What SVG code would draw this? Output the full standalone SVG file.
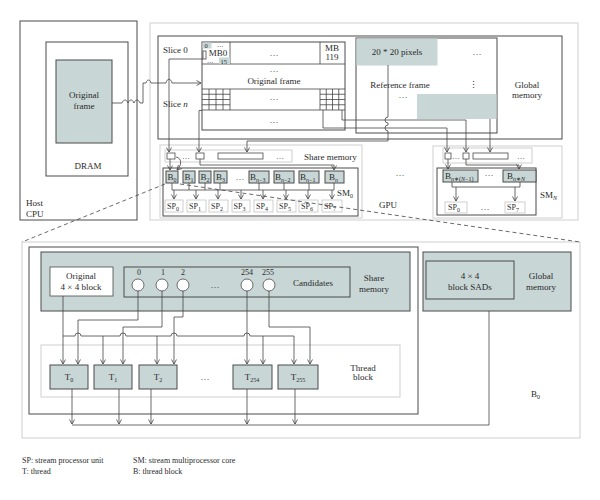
<svg xmlns="http://www.w3.org/2000/svg" width="600" height="500" viewBox="0 0 600 500">
<defs>
<style>
text{font-family:"Liberation Serif",serif;font-size:9px;fill:#2a2a2a}
.dk{fill:none;stroke:#4a4a4a;stroke-width:1}
.lt{fill:none;stroke:#cfcfcf;stroke-width:1}
.gr{fill:#c8d6d6;stroke:#4a4a4a;stroke-width:1}
.gf{fill:#c8d6d6;stroke:none}
.wh{fill:#fff;stroke:#4a4a4a;stroke-width:0.8}
.sp{fill:#fff;stroke:#c4c4c4;stroke-width:0.8}
.ln{fill:none;stroke:#444;stroke-width:0.8}
.ar{fill:none;stroke:#444;stroke-width:0.8;marker-end:url(#a)}
.ds{fill:none;stroke:#444;stroke-width:0.8;stroke-dasharray:4 3}
.c{text-anchor:middle}
.s{font-size:8px}
.xs{font-size:6.5px}
.sub{font-size:6px}
</style>
<marker id="a" markerWidth="6" markerHeight="6" refX="5" refY="3" orient="auto" markerUnits="userSpaceOnUse"><path d="M0.5,0.5 L5,3 L0.5,5.5" fill="none" stroke="#444" stroke-width="0.8"/></marker>
</defs>
<rect width="600" height="500" fill="#fff"/>

<g id="host-cpu">
<rect class="dk" x="20" y="21" width="117" height="199"/>
<text x="26" y="206">Host</text>
<text x="26" y="217">CPU</text>
</g>
<g id="dram">
<rect class="dk" x="46" y="42" width="82" height="134"/>
<text class="c" x="88" y="169">DRAM</text>
</g>
<g id="host-original-frame">
<rect class="gr" x="56" y="60" width="56" height="83"/>
<text class="c" x="84" y="98">Original</text>
<text class="c" x="84" y="109">frame</text>
</g>

<g id="gpu">
<rect class="lt" x="150" y="23" width="428" height="197"/>
<text class="c" x="388" y="208">GPU</text>
<text class="c" x="400" y="176">…</text>
</g>

<g id="global-memory">
<rect class="dk" x="158" y="36" width="404" height="103"/>
<text class="c" x="527" y="88">Global</text>
<text class="c" x="527" y="98">memory</text>
<text x="163" y="53">Slice 0</text>
<text x="163" y="107">Slice <tspan font-style="italic">n</tspan></text>
</g>

<g id="original-frame">
<rect class="dk" x="202" y="42" width="143" height="88"/>
<path class="ln" d="M202,64 H345 M202,89 H345 M202,110 H345 M230,42 V64 M320,42 V64"/>
<rect class="gf" x="202.5" y="42.5" width="9" height="6"/>
<text class="xs" x="204.5" y="48">0</text>
<text class="xs" x="217" y="47">…</text>
<text class="c" x="218" y="55.5" font-size="7.5">MB0</text>
<rect class="wh" x="203" y="51" width="3" height="8"/>
<text class="xs" x="207" y="63">…</text>
<rect class="gf" x="219" y="57.5" width="11" height="6.5"/>
<text class="xs" x="220.5" y="63.5">15</text>
<text class="c" x="274" y="56">…</text>
<text class="c" x="332" y="51">MB</text>
<text class="c" x="332" y="60">119</text>
<text class="c" x="274" y="72">…</text>
<text class="c" x="274" y="84">Original frame</text>
<path class="ln" d="M209,89 V110 M216,89 V110 M223,89 V110 M230,89 V110 M202,94.25 H230 M202,99.5 H230 M202,104.75 H230"/>
<path class="ln" d="M320,89 V110 M326.25,89 V110 M332.5,89 V110 M338.75,89 V110 M320,94.25 H345 M320,99.5 H345 M320,104.75 H345"/>
<text class="c" x="274" y="100">…</text>
<text class="c" x="274" y="123">…</text>
</g>

<g id="reference-frame">
<rect class="dk" x="356" y="38" width="141" height="95"/>
<rect class="gf" x="356.5" y="38.5" width="81" height="27"/>
<text class="c" x="397" y="55">20 * 20 pixels</text>
<text class="c" x="477" y="55">…</text>
<text class="c" x="400" y="88">Reference frame</text>
<text class="c" x="473" y="88">⋮</text>
<text class="c" x="403" y="98">…</text>
<rect class="gf" x="417" y="94" width="79.5" height="25"/>
</g>

<g id="sm0">
<rect class="lt" x="160" y="145" width="202" height="73"/>
<rect class="lt" x="165" y="150" width="127" height="12"/>
<rect class="wh" x="167" y="153" width="8" height="6"/>
<text class="s" x="182" y="159">…</text>
<rect class="wh" x="196" y="153" width="8" height="6"/>
<rect class="wh" x="218" y="153" width="45" height="6"/>
<text class="s" x="276" y="159">…</text>
<text x="304" y="160">Share memory</text>
<rect class="dk" x="163" y="168" width="195" height="48"/>
<text x="337" y="196">SM<tspan class="sub" dy="2">0</tspan></text>
<rect class="gr" x="166" y="171" width="12" height="12"/>
<text x="167.5" y="180">B<tspan class="sub" dy="2">0</tspan></text>
<rect class="gr" x="183" y="171" width="12" height="12"/>
<text x="184.5" y="180">B<tspan class="sub" dy="2">1</tspan></text>
<rect class="gr" x="199" y="171" width="12" height="12"/>
<text x="200.5" y="180">B<tspan class="sub" dy="2">2</tspan></text>
<rect class="gr" x="214" y="171" width="13" height="12"/>
<text x="216" y="180">B<tspan class="sub" dy="2">3</tspan></text>
<text class="c" x="240" y="180">…</text>
<rect class="gr" x="249" y="171" width="20" height="12"/>
<text x="250" y="180">B<tspan class="sub" dy="2"><tspan font-style="italic">n</tspan>−3</tspan></text>
<rect class="gr" x="274" y="171" width="20" height="12"/>
<text x="275" y="180">B<tspan class="sub" dy="2"><tspan font-style="italic">n</tspan>−2</tspan></text>
<rect class="gr" x="299" y="171" width="20" height="12"/>
<text x="300" y="180">B<tspan class="sub" dy="2"><tspan font-style="italic">n</tspan>−1</tspan></text>
<rect class="gr" x="325" y="171" width="19" height="12"/>
<text x="329" y="180">B<tspan class="sub" dy="2" font-style="italic">n</tspan></text>
<rect class="sp" x="165" y="200" width="18" height="12"/>
<text class="s" x="167" y="209">SP<tspan class="sub" dy="2">0</tspan></text>
<rect class="sp" x="187" y="200" width="19" height="12"/>
<text class="s" x="189" y="209">SP<tspan class="sub" dy="2">1</tspan></text>
<rect class="sp" x="209" y="200" width="19" height="12"/>
<text class="s" x="211" y="209">SP<tspan class="sub" dy="2">2</tspan></text>
<rect class="sp" x="232" y="200" width="18" height="12"/>
<text class="s" x="233.5" y="209">SP<tspan class="sub" dy="2">3</tspan></text>
<rect class="sp" x="254" y="200" width="19" height="12"/>
<text class="s" x="256" y="209">SP<tspan class="sub" dy="2">4</tspan></text>
<rect class="sp" x="277" y="200" width="19" height="12"/>
<text class="s" x="279" y="209">SP<tspan class="sub" dy="2">5</tspan></text>
<rect class="sp" x="299" y="200" width="19" height="12"/>
<text class="s" x="301" y="209">SP<tspan class="sub" dy="2">6</tspan></text>
<rect class="sp" x="322" y="200" width="20" height="12"/>
<text class="s" x="324" y="209">SP<tspan class="sub" dy="2">7</tspan></text>
</g>

<g id="smN">
<rect class="lt" x="433" y="146" width="129" height="72"/>
<rect class="lt" x="443" y="148" width="89" height="15"/>
<rect class="wh" x="445" y="153" width="6" height="6"/>
<text class="s" x="452" y="159">…</text>
<rect class="wh" x="463" y="153" width="6" height="6"/>
<rect class="wh" x="473" y="153" width="35" height="6"/>
<text class="s" x="517" y="159">…</text>
<rect class="dk" x="437" y="168" width="99" height="47"/>
<text x="540" y="198">SM<tspan class="sub" dy="2" font-style="italic">N</tspan></text>
<rect class="gr" x="443" y="170" width="35" height="12"/>
<text x="445" y="179">B<tspan class="sub" dy="2"><tspan font-style="italic">n</tspan>∗(<tspan font-style="italic">N</tspan>−1)</tspan></text>
<text class="c" x="489" y="176">…</text>
<rect class="gr" x="503" y="170" width="33" height="12"/>
<text x="507" y="179">B<tspan class="sub" dy="2"><tspan font-style="italic">n</tspan>∗<tspan font-style="italic">N</tspan></tspan></text>
<rect class="sp" x="445" y="202" width="22" height="11"/>
<text class="s" x="448" y="210">SP<tspan class="sub" dy="2">0</tspan></text>
<text class="c" x="485" y="210">…</text>
<rect class="sp" x="505" y="202" width="20" height="11"/>
<text class="s" x="507" y="210">SP<tspan class="sub" dy="2">7</tspan></text>
</g>

<g id="detail-b0">
<rect class="lt" x="22" y="242" width="558" height="196"/>
<rect class="dk" x="29" y="247" width="389" height="167"/>
<text x="531" y="397">B<tspan class="sub" dy="2">0</tspan></text>
</g>
<g id="detail-share-memory">
<rect class="gr" x="41" y="252" width="369" height="59"/>
<text class="c" x="374" y="281">Share</text>
<text class="c" x="374" y="292">memory</text>
</g>
<g id="detail-original-block">
<rect class="wh" x="50" y="267" width="63" height="29"/>
<text class="c" x="81" y="279">Original</text>
<text class="c" x="81" y="290">4 × 4 block</text>
</g>
<g id="detail-candidates">
<rect class="gr" x="124" y="267" width="226" height="30"/>
<text class="c" x="313" y="286">Candidates</text>
<text class="c s" x="139" y="275">0</text>
<circle class="wh" cx="138" cy="285" r="6"/>
<text class="c s" x="163" y="275">1</text>
<circle class="wh" cx="162" cy="285" r="6"/>
<text class="c s" x="183" y="275">2</text>
<circle class="wh" cx="183" cy="285" r="6"/>
<text class="c" x="215" y="288">…</text>
<text class="c s" x="247" y="275">254</text>
<circle class="wh" cx="247" cy="285" r="6"/>
<text class="c s" x="268" y="275">255</text>
<circle class="wh" cx="269" cy="285" r="6"/>
</g>
<g id="detail-thread-block">
<rect class="lt" x="41" y="345" width="359" height="52"/>
<text class="c" x="363" y="371">Thread</text>
<text class="c" x="363" y="380">block</text>
<text class="c" x="205" y="380">…</text>
</g>
<g id="t0"><rect class="gr" x="50" y="365" width="38" height="24"/><text class="c" x="69" y="380">T<tspan class="sub" dy="2">0</tspan></text></g>
<g id="t1"><rect class="gr" x="94" y="365" width="38" height="24"/><text class="c" x="113" y="380">T<tspan class="sub" dy="2">1</tspan></text></g>
<g id="t2"><rect class="gr" x="139" y="365" width="38" height="24"/><text class="c" x="158" y="380">T<tspan class="sub" dy="2">2</tspan></text></g>
<g id="t254"><rect class="gr" x="233" y="365" width="39" height="24"/><text class="c" x="252" y="380">T<tspan class="sub" dy="2">254</tspan></text></g>
<g id="t255"><rect class="gr" x="278" y="365" width="40" height="24"/><text class="c" x="298" y="380">T<tspan class="sub" dy="2">255</tspan></text></g>
<g id="detail-global-memory">
<rect class="gr" x="423" y="252" width="148" height="59"/>
<rect class="gr" x="426" y="261" width="88" height="38"/>
<text class="c" x="470" y="279">4 × 4</text>
<text class="c" x="470" y="290">block SADs</text>
<text class="c" x="541" y="279">Global</text>
<text class="c" x="541" y="290">memory</text>
</g>

<g id="connectors">
<path class="ar" d="M112,103 H122 c1.5,-4 4.5,-4 6,0 c1.5,-4 4.5,-4 6,0 c1.5,-4 4.5,-4 6,0 H143 V83 H146 c1,-4 4,-4 5,0 H166 c1,-5 5,-5 6,0 H201"/>
<path class="ar" d="M203,59 H169 V152"/>
<path class="ar" d="M202,110.5 H199 V152"/>
<path class="ar" d="M388,65 V117 a3,3 0 0 0 0,6 V125 a3,3 0 0 0 0,6 V141 H247 V152"/>
<path class="ar" d="M323,110 V128 H447 V152"/>
<path class="ar" d="M342,110 V120 H466 V152"/>
<path class="ar" d="M490,119 V152"/>
<path class="ar" d="M170,159 V170"/>
<path class="ar" d="M176,157 C182,158 182,165 177,170"/>
<path class="ar" d="M200,159 V165 H334 V170"/>
<path class="ln" d="M172,183 V190 M189,183 V190 M205,183 V190 M220,183 V190 M259,183 V190 M284,183 V190 M309,183 V190 M334,183 V190 M172,190 H334"/>
<path class="ar" d="M174,190 V199"/><path class="ar" d="M196,190 V199"/><path class="ar" d="M218,190 V199"/><path class="ar" d="M241,190 V199"/>
<path class="ar" d="M263,190 V199"/><path class="ar" d="M286,190 V199"/><path class="ar" d="M308,190 V199"/><path class="ar" d="M332,190 V199"/>
<path class="ar" d="M448,159 V169"/>
<path class="ar" d="M466,159 V165 H519 V169"/>
<path class="ln" d="M452,182 V187 H520 V182"/>
<path class="ar" d="M456,187 V201"/>
<path class="ar" d="M515,187 V201"/>
<path class="ds" d="M165,184 L22,242"/>
<path class="ds" d="M180,184 L580,242"/>
<path class="ar" d="M63,296 V364"/>
<path class="ln" d="M63,336 H75 a3,3 0 0 1 6,0 H120 a3,3 0 0 1 6,0 H171 a3,3 0 0 1 6,0 H244 a3,3 0 0 1 6,0 H294"/>
<path class="ar" d="M103,336 V364"/><path class="ar" d="M157,336 V364"/><path class="ar" d="M263,336 V364"/><path class="ar" d="M294,336 V364"/>
<path class="ar" d="M138,291 V320 H78 V364"/>
<path class="ar" d="M162,291 V327 H123 V364"/>
<path class="ar" d="M183,291 V317 H174 V364"/>
<path class="ar" d="M247,291 V364"/>
<path class="ar" d="M269,291 V327 H310 V364"/>
<path class="ar" d="M72,389 V424"/><path class="ar" d="M119,389 V424"/><path class="ar" d="M151,389 V424"/><path class="ar" d="M247,389 V424"/><path class="ar" d="M295,389 V424"/>
<path class="ln" d="M72,425 H489 V311"/>
</g>

<g id="legend">
<text class="s" x="22" y="463">SP: stream processor unit</text>
<text class="s" x="22" y="474">T: thread</text>
<text class="s" x="133" y="463">SM: stream multiprocessor core</text>
<text class="s" x="133" y="474">B: thread block</text>
</g>
</svg>
